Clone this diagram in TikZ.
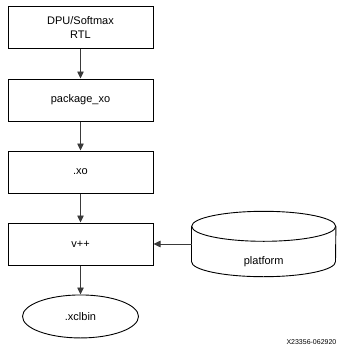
\documentclass[tikz,border=0pt]{standalone}
\usepackage{fontspec}
\setmainfont{Liberation Sans}
\usetikzlibrary{shapes.geometric, arrows.meta, positioning}
\definecolor{flowgray}{HTML}{3A3A3A}

\begin{document}
\begin{tikzpicture}[
    x=1pt, y=1pt,
    node distance=29pt and 38pt,
    every node/.style={font=\fontsize{11}{14}\selectfont},
    block/.style={draw, minimum width=145pt, minimum height=42pt, align=center, line width=1pt},
    result/.style={draw, ellipse, minimum width=116pt, minimum height=43pt, line width=0.9pt},
    storebox/.style={minimum width=144pt, minimum height=65pt, text height=46pt, text depth=6pt, inner sep=0pt},
    storeline/.style={line width=0.9pt},
    arrow/.style={-{Triangle[length=7pt, width=6.5pt]}, line width=0.8pt, draw=flowgray},
    lbl/.style={font=\fontsize{7}{8}\selectfont}
]
    \useasboundingbox (0,0) rectangle (337,-353);

    \node[block] (rtl) at (80.5,-28) {DPU/Softmax\\RTL};
    \node[block, below=of rtl] (pkg) {package\_xo};
    \node[block, below=of pkg] (xo) {.xo};
    \node[block, below=of xo] (vpp) {v++};
    \node[result, below=of vpp] (xclbin) {.xclbin};
    \node[storebox, right=of vpp] (platform) {platform};

    % cylinder outline round the platform node
    \draw[storeline] ([yshift=-15pt]platform.north west) -- ([yshift=15pt]platform.south west)
        arc[start angle=180, end angle=360, x radius=72pt, y radius=15pt]
        -- ([yshift=-15pt]platform.north east);
    \draw[storeline] ([yshift=-15pt]platform.north) ellipse[x radius=72pt, y radius=15pt];

    \draw[arrow] (rtl) -- (pkg);
    \draw[arrow] (pkg) -- (xo);
    \draw[arrow] (xo) -- (vpp);
    \draw[arrow] (vpp) -- (xclbin);
    \draw[arrow] (platform) -- (vpp);

    \node[lbl, anchor=west] (figid) at (283,-342) {X23356-062920};
\end{tikzpicture}
\end{document}
